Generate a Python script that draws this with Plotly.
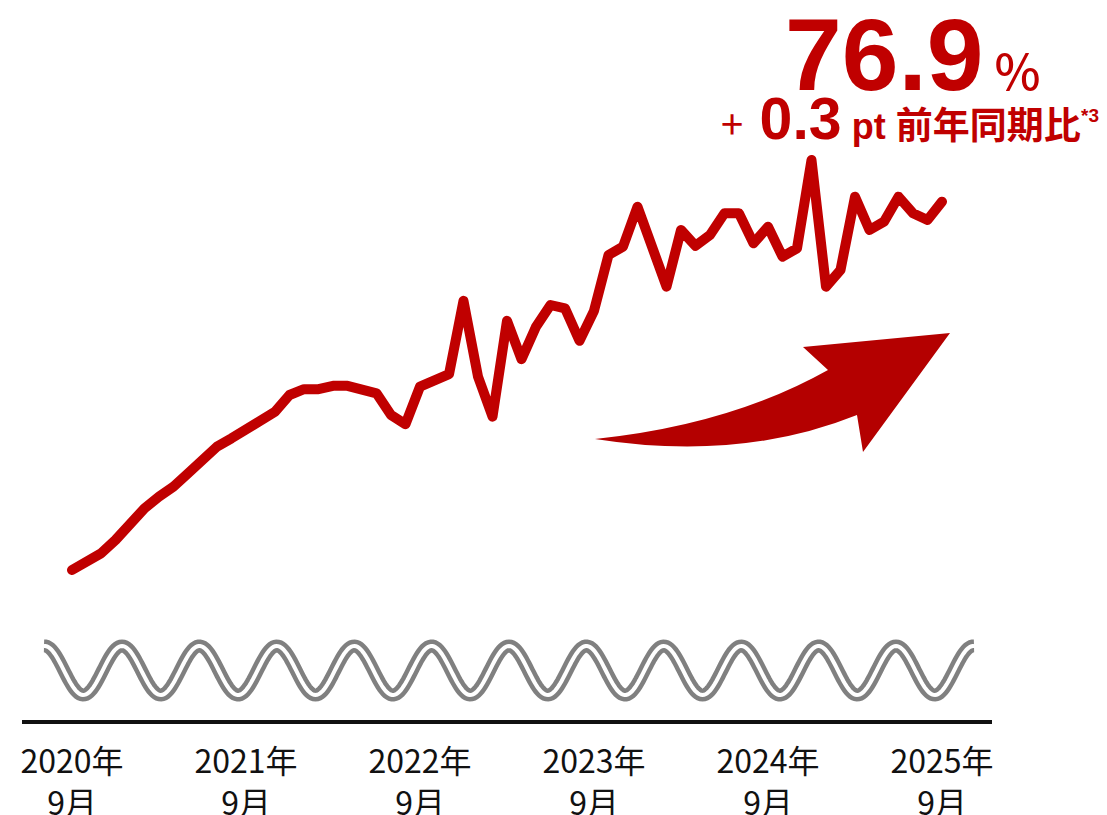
import numpy as np
import plotly.graph_objects as go

# Monthly ratio (%), Sep 2020 - Sep 2025
months = [f"{2020 + (8 + i) // 12}-{(8 + i) % 12 + 1:02d}" for i in range(61)]
ratio = [
    72.48, 72.58, 72.68, 72.84, 73.04, 73.22, 73.36, 73.48, 73.64, 73.80,
    73.96, 74.06, 74.16, 74.27, 74.38, 74.58, 74.65, 74.65, 74.69, 74.69,
    74.65, 74.60, 74.34, 74.23, 74.68, 74.75, 74.83, 75.71, 74.80, 74.32,
    75.47, 75.01, 75.40, 75.66, 75.62, 75.23, 75.59, 76.26, 76.36, 76.84,
    76.36, 75.88, 76.56, 76.37, 76.50, 76.76, 76.76, 76.40, 76.60, 76.24,
    76.34, 77.40, 75.88, 76.08, 76.96, 76.56, 76.66, 76.96, 76.76, 76.68,
    76.90,
]
tick_pos = [0, 12, 24, 36, 48, 60]
tick_text = ["2020年<br>9月", "2021年<br>9月", "2022年<br>9月",
             "2023年<br>9月", "2024年<br>9月", "2025年<br>9月"]
latest_value = "76.9"
yoy_change = "0.3"

W, H = 1107, 815
ML, MR, MT, MB = 22, 115, 0, 95
PW, PH = W - ML - MR, H - MT - MB

RED = "#C00000"
ARROW_RED = "#B40000"
GREY = "#808080"


def px(xp):
    return (xp - ML) / PW


def py(yp):
    return (PH + MT - yp) / PH


fig = go.Figure()
fig.add_trace(go.Scatter(
    x=list(range(len(ratio))), y=ratio, text=months,
    mode="lines", line=dict(color=RED, width=10),
    hovertemplate="%{text}: %{y:.1f}%<extra></extra>",
))

# axis-break wave: a grey band with a white core
wx = np.arange(44.0, 974.5, 1.5)
wy = 670.5 - 24.5 * np.cos(2 * np.pi * (wx - 44.6) / 77.4)
wave = "M " + " L ".join(f"{px(a):.5f},{py(b):.5f}" for a, b in zip(wx, wy))
fig.add_shape(type="path", path=wave, xref="paper", yref="paper",
              line=dict(color=GREY, width=13), layer="above")
fig.add_shape(type="path", path=wave, xref="paper", yref="paper",
              line=dict(color="white", width=4), layer="above")

# curved trend arrow
def P(a, b):
    return f"{px(a):.5f},{py(b):.5f}"

arrow = (f"M {P(595, 439)} Q {P(730, 425)} {P(828, 370)} L {P(803, 347)} "
         f"L {P(950, 333)} L {P(863, 452)} L {P(857, 415)} "
         f"Q {P(740, 462)} {P(595, 439)} Z")
fig.add_shape(type="path", path=arrow, xref="paper", yref="paper",
              fillcolor=ARROW_RED, line=dict(width=0), layer="above")

# headline value
fig.add_annotation(
    xref="paper", yref="paper", x=px(783), y=py(114),
    xanchor="left", yanchor="bottom", showarrow=False,
    text=(f"<b>{latest_value}</b>"
          "<span style='font-family:Noto Sans CJK JP;font-size:49px;font-weight:500'> %</span>"),
    font=dict(family="Liberation Sans", size=102, color=RED),
)
fig.add_annotation(
    xref="paper", yref="paper", x=px(719), y=py(154),
    xanchor="left", yanchor="bottom", showarrow=False,
    text=("<span style='font-family:Noto Sans CJK JP;font-size:40px'>+</span> "
          f"<b>{yoy_change}</b>"
          "<span style='font-size:36px'> <b>pt</b> </span>"
          "<span style='font-family:Noto Sans CJK JP;font-size:37px'><b>前年同期比</b></span>"),
    font=dict(family="Liberation Sans", size=59, color=RED),
)
fig.add_annotation(
    xref="paper", yref="paper", x=px(1079), y=py(103),
    xanchor="left", yanchor="top", showarrow=False,
    text="<b>*3</b>",
    font=dict(family="Liberation Sans", size=19, color=RED),
)

fig.update_layout(
    width=W, height=H,
    margin=dict(l=ML, r=MR, t=MT, b=MB, autoexpand=False),
    paper_bgcolor="white", plot_bgcolor="white",
    showlegend=False,
    xaxis=dict(
        range=[-3.448, 63.448], tickvals=tick_pos, ticktext=tick_text,
        showgrid=False, zeroline=False, showline=True,
        linecolor="#111111", linewidth=4, automargin=False,
        ticks="outside", ticklen=11, tickcolor="rgba(0,0,0,0)",
        tickfont=dict(family="Noto Sans CJK JP", size=32, color="#111111"),
        fixedrange=True,
    ),
    yaxis=dict(range=[70.68, 79.32], visible=False, fixedrange=True,
               automargin=False),
)

round_js = ("document.querySelectorAll('.scatterlayer .js-line').forEach("
            "function(p){p.style.strokeLinejoin='round';p.style.strokeLinecap='round';});")
fig.write_html("out.html", post_script=round_js)
